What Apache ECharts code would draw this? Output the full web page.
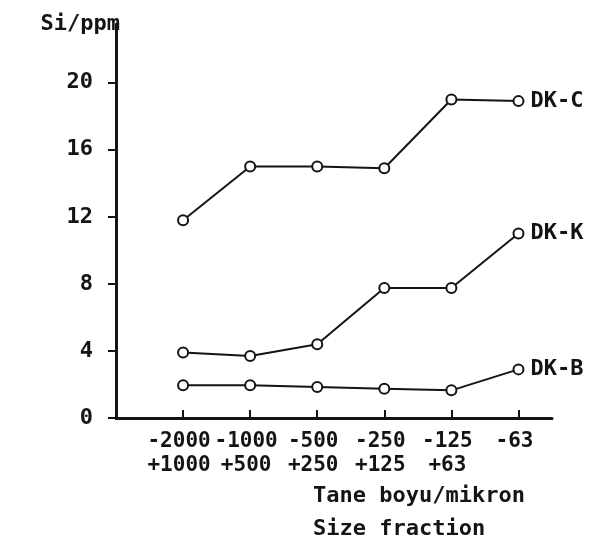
<!DOCTYPE html>
<html>
<head>
<meta charset="utf-8">
<script src="https://cdn.jsdelivr.net/npm/echarts@6/dist/echarts.min.js"></script>
<style>html,body{margin:0;padding:0;background:#fff;}#c{width:599px;height:544px;}</style>
</head>
<body>
<div id="c"></div>
<script>
const categories = ["-2000\n+1000", "-1000\n+500", "-500\n+250", "-250\n+125", "-125\n+63", "-63"];
const seriesNames = ["DK-C", "DK-K", "DK-B"];
const dkC = [11.8, 15.0, 15.0, 14.9, 19.0, 18.9];
const dkK = [3.9, 3.7, 4.4, 7.75, 7.75, 11.0];
const dkB = [1.95, 1.95, 1.85, 1.75, 1.65, 2.9];
const yTicks = [0, 4, 8, 12, 16, 20];
const yName = "Si/ppm";
const xName = "Tane boyu/mikron\nSize fraction";

const FONT = "DejaVu Sans Mono";
const INK = "#141414";
const chart = echarts.init(document.getElementById('c'));
// categories are placed at x = 1..6 on a value axis (0 is the axis origin)
const xPos = categories.map((c, i) => i + 1);
const xTickVals = [0].concat(xPos);
const mk = (name, vals) => ({
  name: name,
  type: 'line',
  data: vals.map((v, i) => [xPos[i], v]),
  symbol: 'circle',
  symbolSize: 10,
  showAllSymbol: true,
  lineStyle: { color: INK, width: 2 },
  itemStyle: { color: '#fff', borderColor: INK, borderWidth: 2 },
  endLabel: { show: true, formatter: name, distance: 12, color: INK, fontFamily: FONT, fontSize: 22, fontWeight: 'bold' },
  emphasis: { disabled: true },
  animation: false
});
chart.setOption({
  backgroundColor: '#fff',
  animation: false,
  grid: { left: 116, right: 47, top: 24, bottom: 126, containLabel: false },
  xAxis: {
    type: 'value', min: 0, max: 6.5,
    axisLine: { show: true, onZero: false, lineStyle: { color: INK, width: 3 } },
    axisTick: { show: true, inside: true, length: 8, lineStyle: { color: INK, width: 2 }, customValues: xTickVals },
    axisLabel: {
      customValues: xTickVals,
      showMinLabel: true,
      formatter: v => (v >= 1 ? (categories[Math.round(v) - 1] || '') : ''),
      color: INK, fontFamily: FONT, fontSize: 21, fontWeight: 'bold', lineHeight: 24, margin: 12,
      padding: [0, 8, 0, 0]
    },
    splitLine: { show: false }
  },
  yAxis: {
    type: 'value', min: 0, max: 23.5,
    name: yName,
    nameLocation: 'end', nameGap: 0,
    nameTextStyle: { color: INK, fontFamily: FONT, fontSize: 22, fontWeight: 'bold', align: 'right', verticalAlign: 'middle', padding: [0, -4, 0, 0] },
    axisLine: { show: true, onZero: false, lineStyle: { color: INK, width: 3 } },
    axisTick: { show: true, length: 8, lineStyle: { color: INK, width: 2 }, customValues: yTicks },
    axisLabel: { customValues: yTicks, color: INK, fontFamily: FONT, fontSize: 22, fontWeight: 'bold', margin: 23 },
    splitLine: { show: false }
  },
  graphic: [{
    type: 'text', left: 313, top: 480,
    style: { text: xName, fill: INK, font: 'bold 22px "' + FONT + '"', lineHeight: 33 }
  }],
  series: [mk(seriesNames[0], dkC), mk(seriesNames[1], dkK), mk(seriesNames[2], dkB)]
});
</script>
</body>
</html>
